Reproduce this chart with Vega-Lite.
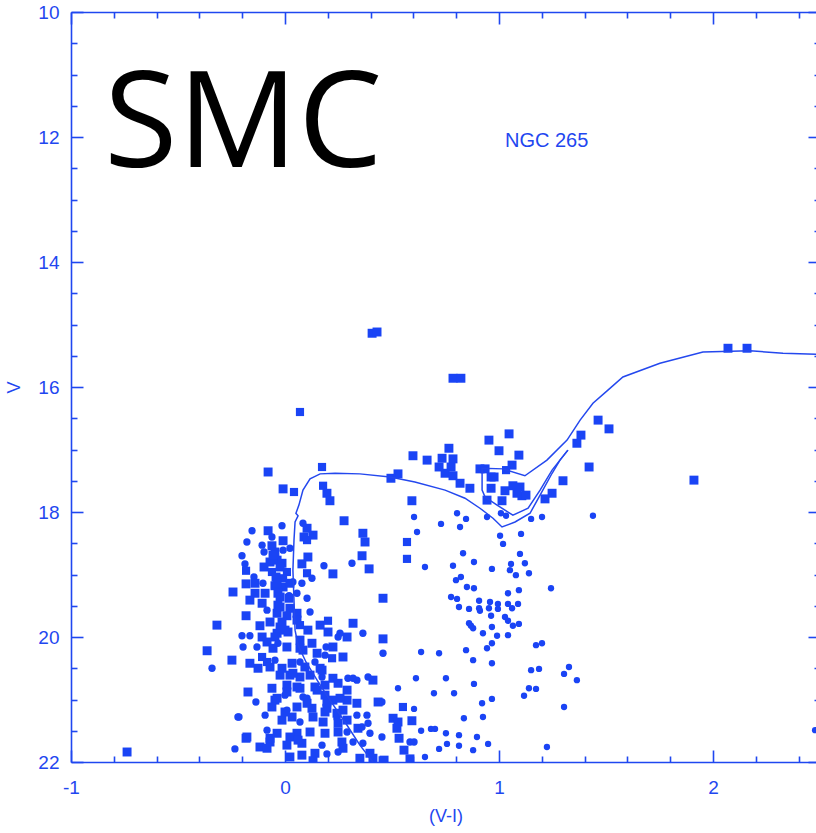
{
  "$schema": "https://vega.github.io/schema/vega-lite/v6.json",
  "width": 749,
  "height": 750,
  "autosize": {"type": "none"},
  "padding": {"left": 71, "top": 12, "right": 0, "bottom": 71},
  "background": "white",
  "config": {
    "view": {"stroke": null},
    "axis": {
      "domainColor": "#1f47f0",
      "domainWidth": 1.6,
      "tickColor": "#1f47f0",
      "tickWidth": 1.6,
      "labelColor": "#1f47f0",
      "labelFont": "Liberation Sans",
      "labelFontSize": 19,
      "titleColor": "#1f47f0",
      "titleFont": "Liberation Sans",
      "titleFontSize": 18,
      "titleFontWeight": "normal",
      "grid": false,
      "labelFlush": false,
      "labelOverlap": false,
      "labelBound": false
    }
  },
  "datasets": {
    "stars": [
      {"vi": -0.738, "V": 21.84, "k": "b"}, {"vi": -0.215, "V": 21.28, "k": "s"}, {"vi": -0.234, "V": 21.79, "k": "s"}, {"vi": -0.182, "V": 21.62, "k": "b"},
      {"vi": 0.407, "V": 15.14, "k": "b"}, {"vi": 0.430, "V": 15.12, "k": "b"}, {"vi": 0.070, "V": 16.40, "k": "m"},
      {"vi": 0.785, "V": 15.86, "k": "b"}, {"vi": 0.822, "V": 15.86, "k": "b"}, {"vi": 2.070, "V": 15.38, "k": "b"}, {"vi": 2.159, "V": 15.38, "k": "b"},
      {"vi": 1.911, "V": 17.49, "k": "b"}, {"vi": 1.463, "V": 16.53, "k": "b"}, {"vi": 1.514, "V": 16.67, "k": "b"}, {"vi": 1.383, "V": 16.77, "k": "b"},
      {"vi": 1.364, "V": 16.90, "k": "b"}, {"vi": 1.421, "V": 17.28, "k": "b"}, {"vi": 1.299, "V": 17.50, "k": "b"}, {"vi": 1.248, "V": 17.70, "k": "b"},
      {"vi": 1.439, "V": 18.06, "k": "t"}, {"vi": 0.598, "V": 17.10, "k": "b"}, {"vi": 0.664, "V": 17.17, "k": "b"}, {"vi": 0.734, "V": 17.14, "k": "b"},
      {"vi": 0.785, "V": 17.15, "k": "b"}, {"vi": 0.720, "V": 17.28, "k": "b"}, {"vi": 0.776, "V": 17.28, "k": "b"}, {"vi": 0.766, "V": 16.98, "k": "b"},
      {"vi": 0.748, "V": 17.38, "k": "b"}, {"vi": 0.785, "V": 17.42, "k": "b"}, {"vi": 0.818, "V": 17.54, "k": "b"}, {"vi": 0.864, "V": 17.62, "k": "b"},
      {"vi": 0.911, "V": 17.31, "k": "b"}, {"vi": 0.935, "V": 17.31, "k": "b"}, {"vi": 0.953, "V": 16.85, "k": "b"}, {"vi": 1.000, "V": 17.02, "k": "b"},
      {"vi": 1.047, "V": 16.75, "k": "b"}, {"vi": 1.093, "V": 17.09, "k": "b"}, {"vi": 1.061, "V": 17.25, "k": "b"}, {"vi": 1.033, "V": 17.33, "k": "m"},
      {"vi": 0.963, "V": 17.44, "k": "b"}, {"vi": 0.977, "V": 17.44, "k": "b"}, {"vi": 0.963, "V": 17.62, "k": "b"}, {"vi": 1.028, "V": 17.66, "k": "b"},
      {"vi": 0.944, "V": 17.81, "k": "b"}, {"vi": 1.014, "V": 17.82, "k": "b"}, {"vi": 1.065, "V": 17.58, "k": "b"}, {"vi": 1.098, "V": 17.60, "k": "b"},
      {"vi": 1.084, "V": 17.70, "k": "b"}, {"vi": 1.107, "V": 17.74, "k": "b"}, {"vi": 1.126, "V": 17.73, "k": "b"}, {"vi": 1.215, "V": 17.79, "k": "b"},
      {"vi": 0.528, "V": 17.39, "k": "b"}, {"vi": 0.495, "V": 17.46, "k": "b"}, {"vi": 0.593, "V": 17.82, "k": "b"}, {"vi": -0.079, "V": 17.36, "k": "b"},
      {"vi": 0.173, "V": 17.28, "k": "m"}, {"vi": -0.009, "V": 17.63, "k": "b"}, {"vi": 0.042, "V": 17.68, "k": "m"}, {"vi": 0.178, "V": 17.58, "k": "m"},
      {"vi": 0.196, "V": 17.70, "k": "b"}, {"vi": 0.210, "V": 17.82, "k": "b"},

      {"vi": 0.603, "V": 18.08, "k": "t"}, {"vi": 0.804, "V": 18.02, "k": "t"}, {"vi": 0.729, "V": 18.19, "k": "t"}, {"vi": 0.846, "V": 18.11, "k": "t"},
      {"vi": 0.818, "V": 18.24, "k": "t"}, {"vi": 0.944, "V": 18.08, "k": "t"}, {"vi": 1.009, "V": 18.02, "k": "t"}, {"vi": 1.033, "V": 18.06, "k": "t"},
      {"vi": 1.150, "V": 18.11, "k": "t"}, {"vi": 1.201, "V": 18.08, "k": "t"}, {"vi": 0.617, "V": 18.32, "k": "t"}, {"vi": 0.570, "V": 18.48, "k": "m"},
      {"vi": 1.005, "V": 18.38, "k": "t"}, {"vi": 1.019, "V": 18.51, "k": "t"}, {"vi": 1.103, "V": 18.35, "k": "t"}, {"vi": 0.570, "V": 18.75, "k": "m"},
      {"vi": 0.654, "V": 18.88, "k": "t"}, {"vi": 0.832, "V": 18.66, "k": "t"}, {"vi": 0.785, "V": 18.86, "k": "t"}, {"vi": 0.883, "V": 18.80, "k": "t"},
      {"vi": 0.967, "V": 18.91, "k": "t"}, {"vi": 1.056, "V": 18.83, "k": "t"}, {"vi": 1.051, "V": 18.93, "k": "t"}, {"vi": 1.098, "V": 18.67, "k": "t"},
      {"vi": 1.121, "V": 18.82, "k": "t"}, {"vi": 1.079, "V": 19.01, "k": "t"}, {"vi": 1.140, "V": 18.98, "k": "t"}, {"vi": 0.799, "V": 19.09, "k": "t"},
      {"vi": 0.822, "V": 19.04, "k": "t"}, {"vi": 0.850, "V": 19.20, "k": "t"}, {"vi": 0.883, "V": 19.22, "k": "t"}, {"vi": 1.042, "V": 19.30, "k": "t"},
      {"vi": 1.093, "V": 19.25, "k": "t"}, {"vi": 1.243, "V": 19.22, "k": "t"}, {"vi": 0.776, "V": 19.36, "k": "t"}, {"vi": 0.804, "V": 19.39, "k": "t"},
      {"vi": 0.907, "V": 19.42, "k": "t"}, {"vi": 0.958, "V": 19.44, "k": "t"}, {"vi": 0.995, "V": 19.47, "k": "t"}, {"vi": 1.042, "V": 19.47, "k": "t"},
      {"vi": 1.089, "V": 19.47, "k": "t"}, {"vi": 0.813, "V": 19.52, "k": "t"}, {"vi": 0.860, "V": 19.55, "k": "t"}, {"vi": 0.907, "V": 19.54, "k": "t"},
      {"vi": 0.911, "V": 19.58, "k": "t"}, {"vi": 0.953, "V": 19.54, "k": "t"}, {"vi": 0.995, "V": 19.55, "k": "t"}, {"vi": 1.061, "V": 19.54, "k": "t"},
      {"vi": 0.963, "V": 19.66, "k": "t"}, {"vi": 1.028, "V": 19.68, "k": "t"}, {"vi": 1.042, "V": 19.74, "k": "t"}, {"vi": 0.860, "V": 19.78, "k": "t"},
      {"vi": 0.869, "V": 19.82, "k": "t"}, {"vi": 0.879, "V": 19.86, "k": "t"}, {"vi": 0.967, "V": 19.84, "k": "t"}, {"vi": 1.065, "V": 19.82, "k": "t"},
      {"vi": 1.093, "V": 19.79, "k": "t"}, {"vi": 0.925, "V": 19.94, "k": "t"}, {"vi": 0.991, "V": 19.98, "k": "t"}, {"vi": 1.042, "V": 19.97, "k": "t"},
      {"vi": 0.967, "V": 20.10, "k": "t"}, {"vi": 0.944, "V": 20.18, "k": "t"}, {"vi": 0.846, "V": 20.21, "k": "t"}, {"vi": 0.636, "V": 20.24, "k": "t"},
      {"vi": 0.720, "V": 20.26, "k": "t"}, {"vi": 1.173, "V": 20.13, "k": "t"}, {"vi": 1.201, "V": 20.10, "k": "t"}, {"vi": 0.879, "V": 20.37, "k": "t"},
      {"vi": 0.967, "V": 20.42, "k": "t"}, {"vi": 1.150, "V": 20.53, "k": "t"}, {"vi": 1.187, "V": 20.51, "k": "t"}, {"vi": 1.304, "V": 20.59, "k": "t"},
      {"vi": 1.327, "V": 20.48, "k": "t"}, {"vi": 1.364, "V": 20.69, "k": "t"}, {"vi": 0.612, "V": 20.66, "k": "t"}, {"vi": 0.752, "V": 20.66, "k": "t"},
      {"vi": 0.883, "V": 20.75, "k": "t"}, {"vi": 1.140, "V": 20.82, "k": "t"}, {"vi": 1.173, "V": 20.83, "k": "t"}, {"vi": 1.117, "V": 20.94, "k": "t"},
      {"vi": 0.696, "V": 20.90, "k": "t"}, {"vi": 0.790, "V": 20.90, "k": "t"}, {"vi": 0.967, "V": 20.99, "k": "t"}, {"vi": 0.921, "V": 21.06, "k": "t"},
      {"vi": 1.304, "V": 21.12, "k": "t"}, {"vi": 0.528, "V": 20.82, "k": "t"}, {"vi": 0.551, "V": 21.12, "k": "m"}, {"vi": 0.603, "V": 21.15, "k": "t"},
      {"vi": 0.925, "V": 21.28, "k": "t"}, {"vi": 0.836, "V": 21.30, "k": "t"}, {"vi": 0.636, "V": 21.50, "k": "t"}, {"vi": 0.682, "V": 21.47, "k": "t"},
      {"vi": 0.701, "V": 21.47, "k": "t"}, {"vi": 0.752, "V": 21.54, "k": "t"}, {"vi": 0.813, "V": 21.57, "k": "t"}, {"vi": 0.897, "V": 21.60, "k": "t"},
      {"vi": 0.757, "V": 21.71, "k": "t"}, {"vi": 0.813, "V": 21.74, "k": "t"}, {"vi": 0.949, "V": 21.71, "k": "t"}, {"vi": 0.720, "V": 21.79, "k": "t"},
      {"vi": 0.879, "V": 21.81, "k": "t"}, {"vi": 0.654, "V": 21.92, "k": "t"}, {"vi": 1.224, "V": 21.76, "k": "t"}, {"vi": 0.584, "V": 21.68, "k": "s"},
      {"vi": 0.603, "V": 21.68, "k": "s"}, {"vi": 0.505, "V": 21.30, "k": "b"}, {"vi": 0.528, "V": 21.36, "k": "b"}, {"vi": 0.593, "V": 21.34, "k": "b"},
      {"vi": 0.523, "V": 21.46, "k": "b"}, {"vi": 0.533, "V": 21.62, "k": "b"}, {"vi": 0.556, "V": 21.81, "k": "b"}, {"vi": 0.584, "V": 21.95, "k": "b"},
      {"vi": 0.458, "V": 19.38, "k": "b"}, {"vi": 0.458, "V": 20.03, "k": "b"}, {"vi": 0.458, "V": 20.26, "k": "s"}, {"vi": 0.453, "V": 21.04, "k": "s"},
      {"vi": 0.463, "V": 21.97, "k": "b"}, {"vi": 2.477, "V": 21.49, "k": "t"},

      {"vi": 0.276, "V": 18.14, "k": "b"}, {"vi": 0.084, "V": 18.18, "k": "s"}, {"vi": -0.014, "V": 18.22, "k": "s"}, {"vi": -0.154, "V": 18.30, "k": "s"},
      {"vi": -0.079, "V": 18.30, "k": "b"}, {"vi": 0.103, "V": 18.26, "k": "b"}, {"vi": 0.089, "V": 18.40, "k": "b"}, {"vi": 0.131, "V": 18.37, "k": "b"},
      {"vi": 0.103, "V": 18.45, "k": "m"}, {"vi": -0.061, "V": 18.40, "k": "s"}, {"vi": 0.364, "V": 18.34, "k": "b"}, {"vi": 0.374, "V": 18.48, "k": "b"},
      {"vi": -0.178, "V": 18.48, "k": "s"}, {"vi": -0.009, "V": 18.46, "k": "b"}, {"vi": -0.107, "V": 18.53, "k": "s"}, {"vi": -0.061, "V": 18.54, "k": "b"},
      {"vi": -0.047, "V": 18.64, "k": "b"}, {"vi": -0.009, "V": 18.61, "k": "s"}, {"vi": 0.023, "V": 18.58, "k": "s"}, {"vi": -0.201, "V": 18.70, "k": "s"},
      {"vi": -0.098, "V": 18.64, "k": "s"}, {"vi": 0.360, "V": 18.70, "k": "b"}, {"vi": -0.037, "V": 18.77, "k": "b"}, {"vi": 0.107, "V": 18.72, "k": "b"},
      {"vi": 0.079, "V": 18.83, "k": "b"}, {"vi": -0.187, "V": 18.83, "k": "s"}, {"vi": -0.070, "V": 18.80, "k": "b"}, {"vi": -0.014, "V": 18.82, "k": "b"},
      {"vi": -0.098, "V": 18.88, "k": "b"}, {"vi": -0.023, "V": 18.88, "k": "b"}, {"vi": 0.182, "V": 18.86, "k": "s"}, {"vi": 0.313, "V": 18.82, "k": "s"},
      {"vi": 0.393, "V": 18.91, "k": "b"}, {"vi": -0.182, "V": 18.94, "k": "m"}, {"vi": -0.061, "V": 18.96, "k": "m"}, {"vi": 0.009, "V": 18.96, "k": "m"},
      {"vi": 0.103, "V": 18.98, "k": "m"}, {"vi": 0.224, "V": 18.99, "k": "b"}, {"vi": -0.145, "V": 19.04, "k": "s"}, {"vi": 0.126, "V": 19.06, "k": "s"},
      {"vi": -0.042, "V": 19.04, "k": "b"}, {"vi": -0.009, "V": 19.06, "k": "m"}, {"vi": -0.182, "V": 19.15, "k": "b"}, {"vi": -0.140, "V": 19.14, "k": "b"},
      {"vi": -0.103, "V": 19.14, "k": "s"}, {"vi": -0.047, "V": 19.18, "k": "b"}, {"vi": -0.009, "V": 19.20, "k": "b"}, {"vi": 0.037, "V": 19.12, "k": "s"},
      {"vi": -0.243, "V": 19.28, "k": "b"}, {"vi": -0.140, "V": 19.30, "k": "b"}, {"vi": -0.093, "V": 19.30, "k": "b"}, {"vi": -0.033, "V": 19.30, "k": "b"},
      {"vi": 0.056, "V": 19.30, "k": "s"}, {"vi": -0.164, "V": 19.41, "k": "b"}, {"vi": -0.107, "V": 19.46, "k": "b"}, {"vi": -0.023, "V": 19.36, "k": "b"},
      {"vi": 0.019, "V": 19.34, "k": "s"}, {"vi": 0.103, "V": 19.38, "k": "s"}, {"vi": -0.033, "V": 19.49, "k": "b"}, {"vi": 0.023, "V": 19.54, "k": "b"},
      {"vi": 0.056, "V": 19.62, "k": "b"}, {"vi": -0.084, "V": 19.57, "k": "s"}, {"vi": 0.117, "V": 19.60, "k": "s"}, {"vi": -0.182, "V": 19.66, "k": "b"},
      {"vi": -0.037, "V": 19.62, "k": "b"}, {"vi": 0.056, "V": 19.73, "k": "b"}, {"vi": 0.009, "V": 19.66, "k": "b"}, {"vi": -0.318, "V": 19.81, "k": "b"},
      {"vi": -0.117, "V": 19.82, "k": "b"}, {"vi": -0.070, "V": 19.76, "k": "b"}, {"vi": -0.023, "V": 19.84, "k": "b"}, {"vi": 0.070, "V": 19.81, "k": "m"},
      {"vi": 0.164, "V": 19.81, "k": "b"}, {"vi": 0.201, "V": 19.74, "k": "m"}, {"vi": 0.318, "V": 19.78, "k": "b"}, {"vi": 0.364, "V": 19.94, "k": "s"},
      {"vi": -0.201, "V": 19.98, "k": "s"}, {"vi": -0.164, "V": 19.98, "k": "s"}, {"vi": -0.107, "V": 20.00, "k": "b"}, {"vi": -0.037, "V": 19.94, "k": "b"},
      {"vi": 0.014, "V": 19.92, "k": "b"}, {"vi": 0.201, "V": 19.92, "k": "b"}, {"vi": 0.257, "V": 19.94, "k": "s"}, {"vi": 0.290, "V": 20.00, "k": "b"},
      {"vi": -0.056, "V": 18.69, "k": "b"}, {"vi": -0.037, "V": 19.14, "k": "b"}, {"vi": 0.023, "V": 19.14, "k": "b"}, {"vi": 0.079, "V": 19.14, "k": "s"},
      {"vi": 0.019, "V": 19.38, "k": "b"}, {"vi": -0.023, "V": 19.52, "k": "b"}, {"vi": -0.014, "V": 19.76, "k": "b"}, {"vi": 0.000, "V": 19.89, "k": "b"},
      {"vi": 0.107, "V": 19.89, "k": "b"}, {"vi": -0.047, "V": 20.00, "k": "b"}, {"vi": 0.070, "V": 20.05, "k": "b"}, {"vi": 0.126, "V": 20.10, "k": "b"},
      {"vi": 0.248, "V": 20.00, "k": "s"},

      {"vi": -0.364, "V": 20.22, "k": "b"}, {"vi": -0.196, "V": 20.16, "k": "s"}, {"vi": -0.131, "V": 20.16, "k": "s"}, {"vi": -0.084, "V": 20.08, "k": "b"},
      {"vi": -0.033, "V": 20.10, "k": "s"}, {"vi": 0.009, "V": 20.16, "k": "b"}, {"vi": 0.084, "V": 20.21, "k": "b"}, {"vi": 0.150, "V": 20.26, "k": "b"},
      {"vi": 0.192, "V": 20.16, "k": "s"}, {"vi": 0.224, "V": 20.16, "k": "b"}, {"vi": 0.187, "V": 20.29, "k": "s"}, {"vi": -0.248, "V": 20.37, "k": "b"},
      {"vi": -0.164, "V": 20.42, "k": "b"}, {"vi": -0.107, "V": 20.32, "k": "m"}, {"vi": -0.084, "V": 20.40, "k": "m"}, {"vi": -0.047, "V": 20.37, "k": "s"},
      {"vi": -0.126, "V": 20.50, "k": "b"}, {"vi": -0.070, "V": 20.48, "k": "b"}, {"vi": -0.014, "V": 20.50, "k": "b"}, {"vi": 0.033, "V": 20.42, "k": "b"},
      {"vi": 0.070, "V": 20.40, "k": "s"}, {"vi": 0.093, "V": 20.48, "k": "b"}, {"vi": 0.140, "V": 20.40, "k": "s"}, {"vi": 0.164, "V": 20.50, "k": "b"},
      {"vi": 0.220, "V": 20.34, "k": "m"}, {"vi": 0.271, "V": 20.32, "k": "b"}, {"vi": -0.341, "V": 20.50, "k": "s"}, {"vi": -0.023, "V": 20.61, "k": "b"},
      {"vi": 0.023, "V": 20.61, "k": "b"}, {"vi": 0.070, "V": 20.64, "k": "b"}, {"vi": 0.117, "V": 20.61, "k": "b"}, {"vi": 0.173, "V": 20.64, "k": "s"},
      {"vi": 0.224, "V": 20.66, "k": "b"}, {"vi": 0.294, "V": 20.66, "k": "s"}, {"vi": 0.336, "V": 20.69, "k": "s"}, {"vi": 0.388, "V": 20.64, "k": "s"},
      {"vi": 0.411, "V": 20.69, "k": "b"}, {"vi": -0.061, "V": 20.82, "k": "b"}, {"vi": 0.009, "V": 20.77, "k": "b"}, {"vi": 0.056, "V": 20.80, "k": "b"},
      {"vi": 0.140, "V": 20.80, "k": "b"}, {"vi": 0.187, "V": 20.77, "k": "b"}, {"vi": 0.248, "V": 20.74, "k": "b"}, {"vi": 0.290, "V": 20.85, "k": "b"},
      {"vi": -0.173, "V": 20.88, "k": "b"}, {"vi": 0.000, "V": 20.93, "k": "s"}, {"vi": 0.084, "V": 20.96, "k": "s"}, {"vi": 0.103, "V": 20.98, "k": "s"},
      {"vi": 0.187, "V": 20.93, "k": "b"}, {"vi": 0.224, "V": 21.01, "k": "b"}, {"vi": 0.290, "V": 21.01, "k": "b"}, {"vi": 0.435, "V": 21.04, "k": "b"},
      {"vi": -0.136, "V": 21.04, "k": "s"}, {"vi": -0.047, "V": 21.01, "k": "b"}, {"vi": -0.061, "V": 21.12, "k": "b"}, {"vi": 0.009, "V": 21.17, "k": "s"},
      {"vi": 0.056, "V": 21.12, "k": "b"}, {"vi": 0.126, "V": 21.14, "k": "b"}, {"vi": 0.196, "V": 21.14, "k": "b"}, {"vi": 0.271, "V": 21.17, "k": "b"},
      {"vi": -0.220, "V": 21.28, "k": "s"}, {"vi": -0.093, "V": 21.25, "k": "s"}, {"vi": -0.014, "V": 21.33, "k": "b"}, {"vi": 0.033, "V": 21.28, "k": "b"},
      {"vi": 0.070, "V": 21.36, "k": "s"}, {"vi": 0.131, "V": 21.28, "k": "b"}, {"vi": 0.178, "V": 21.36, "k": "b"}, {"vi": 0.243, "V": 21.30, "k": "s"},
      {"vi": 0.290, "V": 21.33, "k": "b"}, {"vi": 0.336, "V": 21.25, "k": "s"}, {"vi": 0.388, "V": 21.38, "k": "s"}, {"vi": -0.084, "V": 21.49, "k": "s"},
      {"vi": -0.037, "V": 21.54, "k": "b"}, {"vi": 0.056, "V": 21.54, "k": "b"}, {"vi": 0.187, "V": 21.54, "k": "b"}, {"vi": 0.248, "V": 21.52, "k": "b"},
      {"vi": 0.290, "V": 21.52, "k": "s"}, {"vi": 0.341, "V": 21.46, "k": "b"}, {"vi": 0.397, "V": 21.54, "k": "s"}, {"vi": 0.453, "V": 21.60, "k": "s"},
      {"vi": -0.178, "V": 21.60, "k": "b"}, {"vi": -0.070, "V": 21.62, "k": "b"}, {"vi": 0.023, "V": 21.60, "k": "b"}, {"vi": 0.079, "V": 21.70, "k": "b"},
      {"vi": 0.266, "V": 21.68, "k": "b"}, {"vi": 0.318, "V": 21.68, "k": "s"}, {"vi": 0.364, "V": 21.70, "k": "s"}, {"vi": -0.117, "V": 21.76, "k": "b"},
      {"vi": 0.271, "V": 21.78, "k": "b"}, {"vi": 0.397, "V": 21.86, "k": "b"}, {"vi": 0.023, "V": 21.92, "k": "b"}, {"vi": 0.079, "V": 21.89, "k": "b"},
      {"vi": 0.140, "V": 21.86, "k": "b"}, {"vi": 0.196, "V": 21.87, "k": "s"}, {"vi": 0.411, "V": 21.94, "k": "b"}, {"vi": 0.458, "V": 21.98, "k": "b"},
      {"vi": -0.056, "V": 20.18, "k": "b"}, {"vi": 0.070, "V": 20.18, "k": "b"}, {"vi": 0.037, "V": 20.58, "k": "b"}, {"vi": 0.173, "V": 20.53, "k": "b"},
      {"vi": 0.318, "V": 20.66, "k": "s"}, {"vi": 0.009, "V": 20.88, "k": "b"}, {"vi": 0.070, "V": 20.82, "k": "b"}, {"vi": 0.150, "V": 20.85, "k": "b"},
      {"vi": -0.037, "V": 20.98, "k": "b"}, {"vi": 0.103, "V": 21.06, "k": "b"}, {"vi": 0.196, "V": 21.04, "k": "b"}, {"vi": 0.257, "V": 20.98, "k": "b"},
      {"vi": 0.336, "V": 21.06, "k": "b"}, {"vi": 0.000, "V": 21.20, "k": "b"}, {"vi": 0.187, "V": 21.20, "k": "b"}, {"vi": 0.243, "V": 21.22, "k": "b"},
      {"vi": 0.383, "V": 21.25, "k": "s"}, {"vi": 0.248, "V": 21.38, "k": "b"}, {"vi": 0.360, "V": 21.44, "k": "s"}, {"vi": 0.061, "V": 21.65, "k": "b"},
      {"vi": 0.117, "V": 21.52, "k": "b"}, {"vi": -0.070, "V": 21.68, "k": "b"}, {"vi": 0.009, "V": 21.73, "k": "b"}, {"vi": 0.173, "V": 21.73, "k": "s"},
      {"vi": 0.248, "V": 21.84, "k": "s"}, {"vi": 0.350, "V": 21.94, "k": "b"}, {"vi": -0.084, "V": 21.78, "k": "b"}, {"vi": 0.131, "V": 21.98, "k": "b"}
    ],
    "isochrone": [
      {"seg": 1, "i": 1, "vi": 0.411, "V": 22.0}, {"seg": 1, "i": 2, "vi": 0.350, "V": 21.73}, {"seg": 1, "i": 3, "vi": 0.280, "V": 21.36},
      {"seg": 1, "i": 4, "vi": 0.210, "V": 21.01}, {"seg": 1, "i": 5, "vi": 0.150, "V": 20.69}, {"seg": 1, "i": 6, "vi": 0.098, "V": 20.40},
      {"seg": 1, "i": 7, "vi": 0.061, "V": 20.13}, {"seg": 1, "i": 8, "vi": 0.047, "V": 19.89}, {"seg": 1, "i": 9, "vi": 0.042, "V": 19.41},
      {"seg": 1, "i": 10, "vi": 0.037, "V": 18.93}, {"seg": 1, "i": 11, "vi": 0.042, "V": 18.45}, {"seg": 1, "i": 12, "vi": 0.047, "V": 18.16},
      {"seg": 1, "i": 13, "vi": 0.061, "V": 18.06}, {"seg": 1, "i": 14, "vi": 0.051, "V": 18.02}, {"seg": 1, "i": 15, "vi": 0.065, "V": 17.89},
      {"seg": 1, "i": 16, "vi": 0.084, "V": 17.65}, {"seg": 1, "i": 17, "vi": 0.117, "V": 17.47}, {"seg": 1, "i": 18, "vi": 0.164, "V": 17.39},
      {"seg": 1, "i": 19, "vi": 0.234, "V": 17.38}, {"seg": 1, "i": 20, "vi": 0.350, "V": 17.39}, {"seg": 1, "i": 21, "vi": 0.491, "V": 17.44},
      {"seg": 1, "i": 22, "vi": 0.607, "V": 17.52}, {"seg": 1, "i": 23, "vi": 0.748, "V": 17.65}, {"seg": 1, "i": 24, "vi": 0.841, "V": 17.78},
      {"seg": 1, "i": 25, "vi": 0.911, "V": 17.94}, {"seg": 1, "i": 26, "vi": 0.972, "V": 18.10}, {"seg": 1, "i": 27, "vi": 1.014, "V": 18.24},
      {"seg": 1, "i": 28, "vi": 1.075, "V": 18.16}, {"seg": 1, "i": 29, "vi": 1.145, "V": 18.02}, {"seg": 1, "i": 30, "vi": 1.192, "V": 17.73},
      {"seg": 1, "i": 31, "vi": 1.248, "V": 17.38}, {"seg": 1, "i": 32, "vi": 1.285, "V": 17.17}, {"seg": 1, "i": 33, "vi": 1.322, "V": 17.01},
      {"seg": 2, "i": 1, "vi": 1.322, "V": 17.01}, {"seg": 2, "i": 2, "vi": 1.248, "V": 17.33}, {"seg": 2, "i": 3, "vi": 1.192, "V": 17.65},
      {"seg": 2, "i": 4, "vi": 1.136, "V": 17.94}, {"seg": 2, "i": 5, "vi": 1.065, "V": 18.05}, {"seg": 2, "i": 6, "vi": 0.991, "V": 17.89},
      {"seg": 2, "i": 7, "vi": 0.935, "V": 17.76}, {"seg": 2, "i": 8, "vi": 0.921, "V": 17.65}, {"seg": 2, "i": 9, "vi": 0.921, "V": 17.30},
      {"seg": 2, "i": 10, "vi": 1.019, "V": 17.31}, {"seg": 2, "i": 11, "vi": 1.121, "V": 17.42}, {"seg": 2, "i": 12, "vi": 1.224, "V": 17.17},
      {"seg": 2, "i": 13, "vi": 1.318, "V": 16.85}, {"seg": 2, "i": 14, "vi": 1.379, "V": 16.53}, {"seg": 2, "i": 15, "vi": 1.439, "V": 16.26},
      {"seg": 2, "i": 16, "vi": 1.509, "V": 16.05}, {"seg": 2, "i": 17, "vi": 1.579, "V": 15.84}, {"seg": 2, "i": 18, "vi": 1.752, "V": 15.62},
      {"seg": 2, "i": 19, "vi": 1.953, "V": 15.44}, {"seg": 2, "i": 20, "vi": 2.173, "V": 15.42}, {"seg": 2, "i": 21, "vi": 2.327, "V": 15.46},
      {"seg": 2, "i": 22, "vi": 2.500, "V": 15.48}
    ]
  },
  "resolve": {"axis": {"x": "independent", "y": "independent"}},
  "layer": [
    {
      "data": {"name": "stars"},
      "mark": {"type": "point", "filled": true, "opacity": 1, "color": "#1a44f5", "clip": true},
      "encoding": {
        "x": {
          "field": "vi", "type": "quantitative",
          "scale": {"domain": [-1, 2.5], "nice": false, "zero": false},
          "axis": {
            "orient": "bottom",
            "values": [-1, -0.8, -0.6, -0.4, -0.2, 0, 0.2, 0.4, 0.6, 0.8, 1, 1.2, 1.4, 1.6, 1.8, 2, 2.2, 2.4],
            "tickSize": {"condition": {"test": "abs(datum.value - round(datum.value)) < 0.001", "value": -12}, "value": -6},
            "labelExpr": "abs(datum.value - round(datum.value)) < 0.001 ? '' + round(datum.value) : ''",
            "labelPadding": 28,
            "title": "(V-I)",
            "titlePadding": 4
          }
        },
        "y": {
          "field": "V", "type": "quantitative",
          "scale": {"domain": [10, 22], "reverse": true, "nice": false, "zero": false},
          "axis": {
            "orient": "left",
            "values": [10, 10.5, 11, 11.5, 12, 12.5, 13, 13.5, 14, 14.5, 15, 15.5, 16, 16.5, 17, 17.5, 18, 18.5, 19, 19.5, 20, 20.5, 21, 21.5, 22],
            "tickSize": {"condition": {"test": "datum.value % 2 == 0", "value": -12}, "value": -6},
            "labelExpr": "datum.value % 2 == 0 ? '' + datum.value : ''",
            "labelPadding": 24,
            "title": "V",
            "titlePadding": 14
          }
        },
        "shape": {"field": "k", "type": "nominal", "legend": null,
          "scale": {"domain": ["b", "m", "s", "t"], "range": ["square", "square", "circle", "circle"]}},
        "size": {"field": "k", "type": "nominal", "legend": null,
          "scale": {"domain": ["b", "m", "s", "t"], "range": [80, 40, 14, 8]}}
      }
    },
    {
      "data": {"name": "isochrone"},
      "mark": {"type": "line", "color": "#2448ee", "strokeWidth": 1.5, "clip": true},
      "encoding": {
        "x": {
          "field": "vi", "type": "quantitative",
          "scale": {"domain": [-1, 2.5], "nice": false, "zero": false},
          "axis": {
            "orient": "top",
            "values": [-1, -0.8, -0.6, -0.4, -0.2, 0, 0.2, 0.4, 0.6, 0.8, 1, 1.2, 1.4, 1.6, 1.8, 2, 2.2, 2.4],
            "tickSize": {"condition": {"test": "abs(datum.value - round(datum.value)) < 0.001", "value": -12}, "value": -6},
            "labels": false,
            "title": null
          }
        },
        "y": {
          "field": "V", "type": "quantitative",
          "scale": {"domain": [10, 22], "reverse": true, "nice": false, "zero": false},
          "axis": {
            "orient": "right",
            "values": [10, 10.5, 11, 11.5, 12, 12.5, 13, 13.5, 14, 14.5, 15, 15.5, 16, 16.5, 17, 17.5, 18, 18.5, 19, 19.5, 20, 20.5, 21, 21.5, 22],
            "tickSize": {"condition": {"test": "datum.value % 2 == 0", "value": -12}, "value": -6},
            "labels": false,
            "title": null
          }
        },
        "detail": {"field": "seg", "type": "nominal"},
        "order": {"field": "i", "type": "quantitative"}
      }
    },
    {
      "data": {"values": [{"vi": 1.028, "V": 12.06, "label": "NGC 265"}]},
      "mark": {"type": "text", "align": "left", "baseline": "middle", "font": "Liberation Sans", "fontSize": 20, "color": "#1f47f0"},
      "encoding": {
        "x": {"field": "vi", "type": "quantitative", "axis": null},
        "y": {"field": "V", "type": "quantitative", "axis": null},
        "text": {"field": "label"}
      }
    },
    {
      "data": {"values": [{"vi": -0.846, "V": 12.48, "label": "SMC"}]},
      "mark": {"type": "text", "align": "left", "baseline": "alphabetic", "font": "Open Sans", "fontSize": 134, "color": "black"},
      "encoding": {
        "x": {"field": "vi", "type": "quantitative", "axis": null},
        "y": {"field": "V", "type": "quantitative", "axis": null},
        "text": {"field": "label"}
      }
    }
  ]
}
